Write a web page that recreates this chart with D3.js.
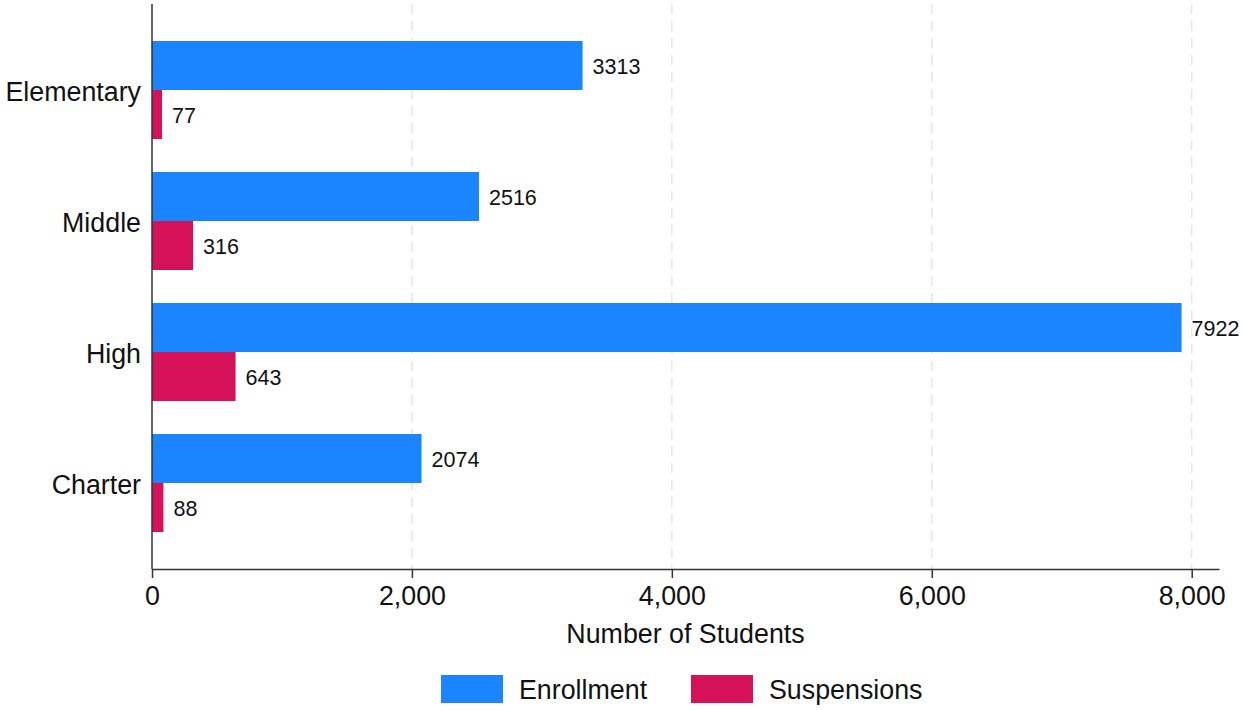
<!DOCTYPE html>
<html>
<head>
<meta charset="utf-8">
<script src="https://cdn.jsdelivr.net/npm/d3@7"></script>
<style>
  html, body { margin: 0; padding: 0; background: #fff; }
  svg { display: block; font-family: "Liberation Sans", Arial, Helvetica, sans-serif; }
</style>
</head>
<body>
<svg id="chart" width="1243" height="710"></svg>
<script>
const categories = ["Elementary", "Middle", "High", "Charter"];
const seriesNames = ["Enrollment", "Suspensions"];
const enrollment = [3313, 2516, 7922, 2074];
const suspensions = [77, 316, 643, 88];
const xTicks = [0, 2000, 4000, 6000, 8000];
const xMax = 8210;
const xTitle = "Number of Students";
const colors = ["#1A85FF", "#D41159"];

const svg = d3.select("#chart");
const margin = { left: 152, right: 24, top: 4, bottom: 141 };
const W = 1243, H = 710;
const plotBottom = H - margin.bottom; // 569
const bigFont = 26.8;

const x = d3.scaleLinear().domain([0, xMax]).range([margin.left, W - margin.right]);
const y = d3.scaleBand().domain(categories)
  .range([24.5, 548.5]).paddingInner(0.252).paddingOuter(0.126);
const ySub = d3.scaleBand().domain(seriesNames).range([0, y.bandwidth()]);

const data = categories.map((c, i) => ({
  cat: c,
  values: [
    { s: seriesNames[0], v: enrollment[i] },
    { s: seriesNames[1], v: suspensions[i] }
  ]
}));

// gridlines
svg.append("g").selectAll("line")
  .data(xTicks.filter(t => t > 0))
  .join("line")
  .attr("x1", d => x(d)).attr("x2", d => x(d))
  .attr("y1", margin.top).attr("y2", plotBottom)
  .attr("stroke", "#e6e6e6").attr("stroke-width", 1.5)
  .attr("stroke-dasharray", "10,7");

// bars
const groups = svg.append("g").selectAll("g")
  .data(data).join("g")
  .attr("transform", d => `translate(0,${y(d.cat)})`);

groups.selectAll("rect")
  .data(d => d.values).join("rect")
  .attr("x", x(0))
  .attr("y", d => ySub(d.s))
  .attr("width", d => x(d.v) - x(0))
  .attr("height", ySub.bandwidth())
  .attr("fill", (d, i) => colors[i]);

groups.selectAll("text")
  .data(d => d.values).join("text")
  .attr("x", d => x(d.v) + 10)
  .attr("y", d => ySub(d.s) + ySub.bandwidth() / 2 + 8.5)
  .attr("font-size", 21.5)
  .attr("fill", "#111")
  .text(d => d.v);

// x axis
const xAxis = d3.axisBottom(x).tickValues(xTicks).tickFormat(d3.format(",")).tickSize(9).tickSizeOuter(0).tickPadding(8);
const gx = svg.append("g").attr("transform", `translate(0,${plotBottom})`).call(xAxis);
gx.select(".domain").attr("stroke", "#333").attr("stroke-width", 1.5);
gx.selectAll(".tick line").attr("stroke", "#333").attr("stroke-width", 1.5);
gx.selectAll(".tick text").attr("font-size", bigFont).attr("fill", "#111")
  .attr("font-family", "Liberation Sans, Arial, sans-serif");

// y axis line
svg.append("line")
  .attr("x1", margin.left).attr("x2", margin.left)
  .attr("y1", margin.top).attr("y2", plotBottom)
  .attr("stroke", "#333").attr("stroke-width", 1.5);

// y labels
svg.append("g").selectAll("text")
  .data(categories).join("text")
  .attr("x", margin.left - 11)
  .attr("y", d => y(d) + y.bandwidth() / 2 + 10.5)
  .attr("text-anchor", "end")
  .attr("font-size", bigFont)
  .attr("fill", "#111")
  .text(d => d);

// x title
svg.append("text")
  .attr("x", (x.range()[0] + x.range()[1]) / 2)
  .attr("y", 643)
  .attr("text-anchor", "middle")
  .attr("font-size", bigFont)
  .attr("fill", "#111")
  .text(xTitle);

// legend
const legendX = [441, 691];
const leg = svg.append("g").selectAll("g")
  .data(seriesNames).join("g")
  .attr("transform", (d, i) => `translate(${legendX[i]},675)`);
leg.append("rect").attr("width", 62).attr("height", 28).attr("fill", (d, i) => colors[i]);
leg.append("text").attr("x", 78).attr("y", 23.5).attr("font-size", bigFont).attr("fill", "#111").text(d => d);
</script>
</body>
</html>
